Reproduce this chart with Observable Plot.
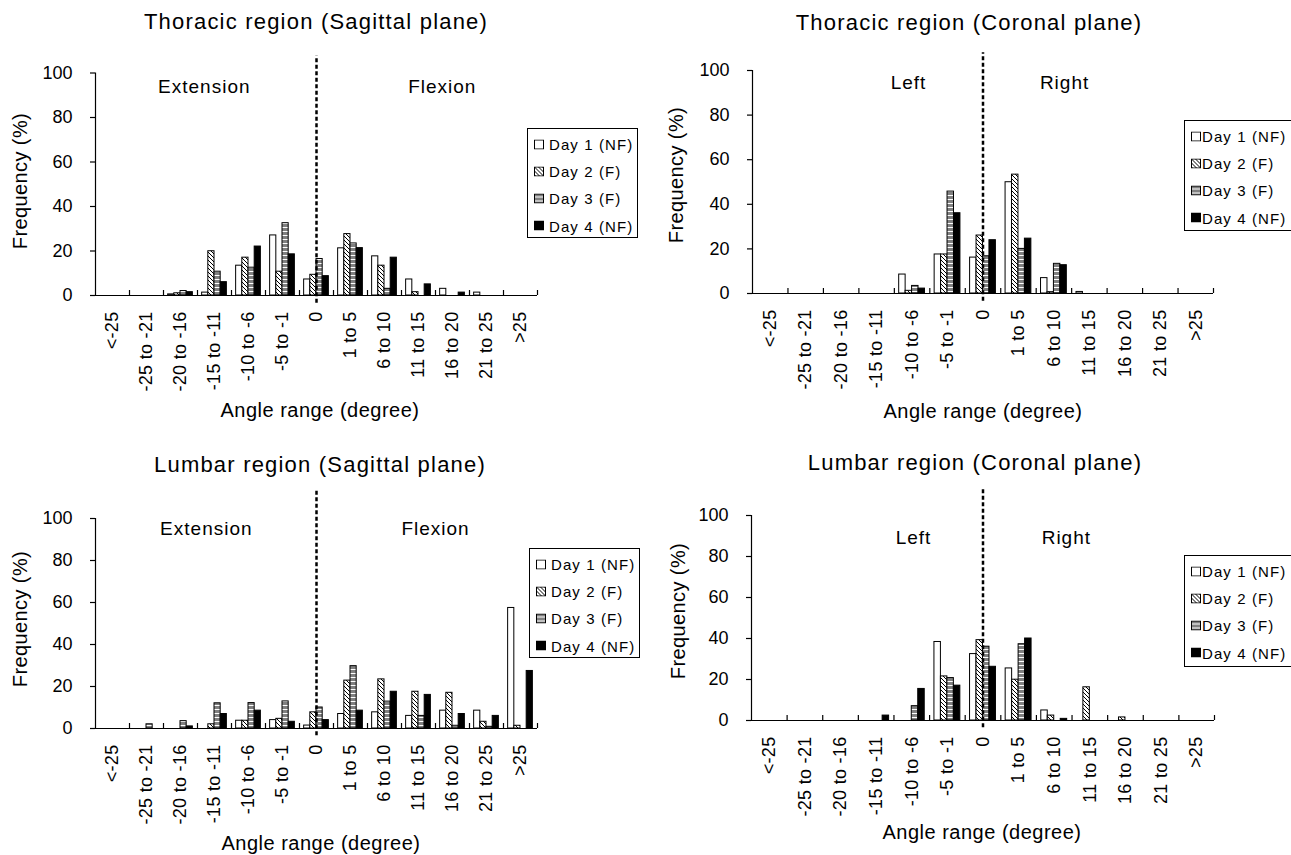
<!DOCTYPE html>
<html><head><meta charset="utf-8">
<script src="https://cdn.jsdelivr.net/npm/d3@7"></script>
<script src="https://cdn.jsdelivr.net/npm/@observablehq/plot@0.6"></script>
<style>
body{margin:0;background:#fff;}
#wrap{position:relative;width:1291px;height:855px;overflow:hidden;background:#fff;font-family:"Liberation Sans",Arial,sans-serif;color:#000;}
.abs{position:absolute;white-space:nowrap;line-height:1;}
.title{font-size:22px;letter-spacing:1.2px;transform:translate(-50%,-50%);}
.xlab{font-size:20px;letter-spacing:0.5px;transform:translate(-50%,-50%);}
.ylab{font-size:20px;letter-spacing:0.4px;transform:translate(-50%,-50%) rotate(-90deg);}
.legend{position:absolute;border:1px solid #000;background:#fff;box-sizing:border-box;font-size:15px;letter-spacing:1.1px;}
.legend .row{position:absolute;display:flex;align-items:center;white-space:nowrap;transform:translateY(-50%);line-height:1;}
.plotbox{position:absolute;}
</style></head><body>
<svg width="0" height="0" style="position:absolute">
<defs>
<pattern id="hatch" patternUnits="userSpaceOnUse" width="4" height="4">
<rect width="4" height="4" fill="#fff"/>
<path d="M-1,-1 L5,5 M3,-1 L5,1 M-1,3 L1,5" stroke="#000" stroke-width="1"/>
</pattern>
<pattern id="stripe" patternUnits="userSpaceOnUse" width="4" height="4">
<rect width="4" height="4" fill="#808080"/>
<rect y="3" width="4" height="1" fill="#fff"/>
</pattern>
</defs>
</svg>
<div id="wrap"></div>
<script>
// ---- data ----
const categories = ["<-25","-25 to -21","-20 to -16","-15 to -11","-10 to -6","-5 to -1","0","1 to 5","6 to 10","11 to 15","16 to 20","21 to 25",">25"];
const days = ["Day 1 (NF)","Day 2 (F)","Day 3 (F)","Day 4 (NF)"];
const yTicks = [0,20,40,60,80,100];

// Thoracic region (Sagittal plane)
const thorSagDay1 = [0,0,0.5,1.3,13.4,27,7.2,21.2,17.6,7.2,3,1.3,0];
const thorSagDay2 = [0,0,1,19.9,17,10.7,9.3,27.6,13.4,1.5,0,0,0];
const thorSagDay3 = [0,0,2,10.7,12.5,32.5,16.4,23.4,3,0,0,0,0];
const thorSagDay4 = [0,0,1.5,6,22,18.5,8.7,21.3,17,5,1.3,0,0];
// Thoracic region (Coronal plane)
const thorCorDay1 = [0,0,0,0,8.5,17.5,16.1,49.9,6.9,0.7,0,0,0];
const thorCorDay2 = [0,0,0,0,1.2,17.5,26,53.3,0.6,0,0,0,0];
const thorCorDay3 = [0,0,0,0,3.4,45.7,16.7,20,13.3,0,0,0,0];
const thorCorDay4 = [0,0,0,0,2.2,36,23.9,24.6,12.7,0,0,0,0];
// Lumbar region (Sagittal plane)
const lumSagDay1 = [0,0,0,0,3.7,4,1.4,6.9,7.7,6,8.5,8.5,57.4];
const lumSagDay2 = [0,0,0,2,3.7,4.6,7.7,22.8,23.4,17.5,17,3.2,1.3];
const lumSagDay3 = [0,2,3.5,12,12.1,12.9,10,29.7,12.8,6,1.3,0.8,0];
const lumSagDay4 = [0,0,1,6.9,8.5,3.2,4,8.5,17.5,16,6.9,6,27.4];
// Lumbar region (Coronal plane)
const lumCorDay1 = [0,0,0,0,0,38.3,32.4,25.4,4.9,0,0,0,0];
const lumCorDay2 = [0,0,0,0,0,21.5,39.2,19.9,2.4,16.2,1.5,0,0];
const lumCorDay3 = [0,0,0,0,7,20.7,36,37.2,0,0,0,0,0];
const lumCorDay4 = [0,0,0,2.4,15.4,17,26.2,40,0.8,0,0,0,0];

const fills = ["#fff","url(#hatch)","url(#stripe)","#000"];

const panels = [
  {title:"Thoracic region (Sagittal plane)", series:[thorSagDay1,thorSagDay2,thorSagDay3,thorSagDay4],
   notes:[{x:3.2,y:93.7,text:"Extension"},{x:10.2,y:93.7,text:"Flexion"}],
   box:{left:0,top:0,width:645,height:430}, frame:{x0:95,x1:537,yTop:72.5,yBase:295}, dashTop:107.6,
   titlePos:[316,22], xlabPos:[320,410], ylabPos:[20,181],
   legend:{left:527,top:128,width:111,height:110,gap:5}},
  {title:"Thoracic region (Coronal plane)", series:[thorCorDay1,thorCorDay2,thorCorDay3,thorCorDay4],
   notes:[{x:4.4,y:94.5,text:"Left"},{x:8.8,y:94.5,text:"Right"}],
   box:{left:645,top:0,width:646,height:430}, frame:{x0:752,x1:1213,yTop:70,yBase:293}, dashTop:108,
   titlePos:[969,23], xlabPos:[983,411], ylabPos:[676,175],
   legend:{left:1184,top:120,width:120,height:111,gap:1}},
  {title:"Lumbar region (Sagittal plane)", series:[lumSagDay1,lumSagDay2,lumSagDay3,lumSagDay4],
   notes:[{x:3.26,y:95,text:"Extension"},{x:10.0,y:95,text:"Flexion"}],
   box:{left:0,top:430,width:645,height:425}, frame:{x0:95,x1:537,yTop:518,yBase:728}, dashTop:114,
   titlePos:[320,465], xlabPos:[321,843], ylabPos:[20,619],
   legend:{left:529,top:548,width:111,height:110,gap:5}},
  {title:"Lumbar region (Coronal plane)", series:[lumCorDay1,lumCorDay2,lumCorDay3,lumCorDay4],
   notes:[{x:4.55,y:89,text:"Left"},{x:8.84,y:89,text:"Right"}],
   box:{left:645,top:430,width:646,height:425}, frame:{x0:751,x1:1214,yTop:515,yBase:720}, dashTop:113.6,
   titlePos:[975,463], xlabPos:[982,832], ylabPos:[678,611],
   legend:{left:1184,top:555,width:120,height:112,gap:1}}
];

const wrap = document.getElementById("wrap");
const n = categories.length;
const bw = 1/5.5; // bar width in category units (gap width 150%)
const zeroPos = categories.indexOf("0") + 0.5;

function addDiv(cls, text, x, y) {
  const d = document.createElement("div");
  d.className = "abs " + cls;
  d.textContent = text;
  d.style.left = x + "px";
  d.style.top = y + "px";
  wrap.appendChild(d);
}

panels.forEach(p => {
  const rows = [];
  p.series.forEach((vals, d) => vals.forEach((v, k) => { if (v > 0) rows.push({k, d, v}); }));
  const marks = [];
  for (let d = 0; d < 4; d++) {
    marks.push(Plot.rect(rows.filter(r => r.d === d), {
      x1: r => r.k + (0.75 + d) * bw,
      x2: r => r.k + (1.75 + d) * bw,
      y1: 0, y2: "v",
      fill: fills[d], stroke: "#000", strokeWidth: 1
    }));
  }
  marks.push(Plot.ruleY([0], {stroke: "#000", strokeWidth: 1.2}));
  marks.push(Plot.ruleX([0], {y1: 0, y2: 100, stroke: "#000", strokeWidth: 1.2}));
  marks.push(Plot.ruleX(d3.range(1, n + 1), {y1: 0, y2: 0, insetTop: -5, stroke: "#000", strokeWidth: 1.2}));
  marks.push(Plot.axisY({ticks: yTicks, tickSize: 5, tickPadding: 18, fontSize: 18, tickFormat: d => String(d), label: null, strokeWidth: 1.2}));
  marks.push(Plot.axisX({ticks: d3.range(n).map(k => k + 0.5), tickFormat: t => categories[Math.floor(t)], tickRotate: -90, tickSize: 0, tickPadding: 16, fontSize: 18, label: null}));
  marks.push(Plot.ruleX([zeroPos], {y1: -3.5, y2: p.dashTop, stroke: "#000", strokeWidth: 2.5, strokeDasharray: "4,2.5"}));
  marks.push(Plot.text(p.notes, {x: "x", y: "y", text: "text", fontSize: 19, textAnchor: "middle", lineAnchor: "middle"}));

  const f = p.frame, b = p.box;
  const svg = Plot.plot({
    width: b.width, height: b.height,
    marginLeft: f.x0 - b.left, marginRight: b.left + b.width - f.x1,
    marginTop: f.yTop - b.top, marginBottom: b.top + b.height - f.yBase,
    x: {domain: [0, n]},
    y: {domain: [0, 100]},
    style: {background: "transparent", color: "#000", fontFamily: "'Liberation Sans', Arial, sans-serif", overflow: "visible"},
    marks
  });
  svg.querySelectorAll('g[aria-label="text"] text').forEach(t => t.style.letterSpacing = "1px");
  svg.querySelectorAll('g[aria-label="x-axis tick label"] text').forEach(t => t.style.letterSpacing = "0.3px");
  const holder = document.createElement("div");
  holder.className = "plotbox";
  holder.style.left = b.left + "px";
  holder.style.top = b.top + "px";
  holder.appendChild(svg);
  wrap.appendChild(holder);

  addDiv("title", p.title, p.titlePos[0], p.titlePos[1]);
  addDiv("xlab", "Angle range (degree)", p.xlabPos[0], p.xlabPos[1]);
  addDiv("ylab", "Frequency (%)", p.ylabPos[0], p.ylabPos[1]);

  const L = p.legend;
  const lg = document.createElement("div");
  lg.className = "legend";
  lg.style.left = L.left + "px"; lg.style.top = L.top + "px";
  lg.style.width = L.width + "px"; lg.style.height = L.height + "px";
  days.forEach((name, i) => {
    const row = document.createElement("div");
    row.className = "row";
    row.style.left = "6px";
    row.style.top = (15 + 27.2 * i) + "px";
    const sw = document.createElementNS("http://www.w3.org/2000/svg", "svg");
    sw.setAttribute("width", 10); sw.setAttribute("height", 10);
    sw.style.marginRight = L.gap + "px";
    sw.style.display = "block";
    const r = document.createElementNS("http://www.w3.org/2000/svg", "rect");
    r.setAttribute("x", 0.5); r.setAttribute("y", 0.5); r.setAttribute("width", 9); r.setAttribute("height", 9);
    r.setAttribute("fill", fills[i]); r.setAttribute("stroke", "#000");
    sw.appendChild(r);
    row.appendChild(sw);
    const s = document.createElement("span");
    s.textContent = name;
    row.appendChild(s);
    lg.appendChild(row);
  });
  wrap.appendChild(lg);
});
</script>
</body></html>
